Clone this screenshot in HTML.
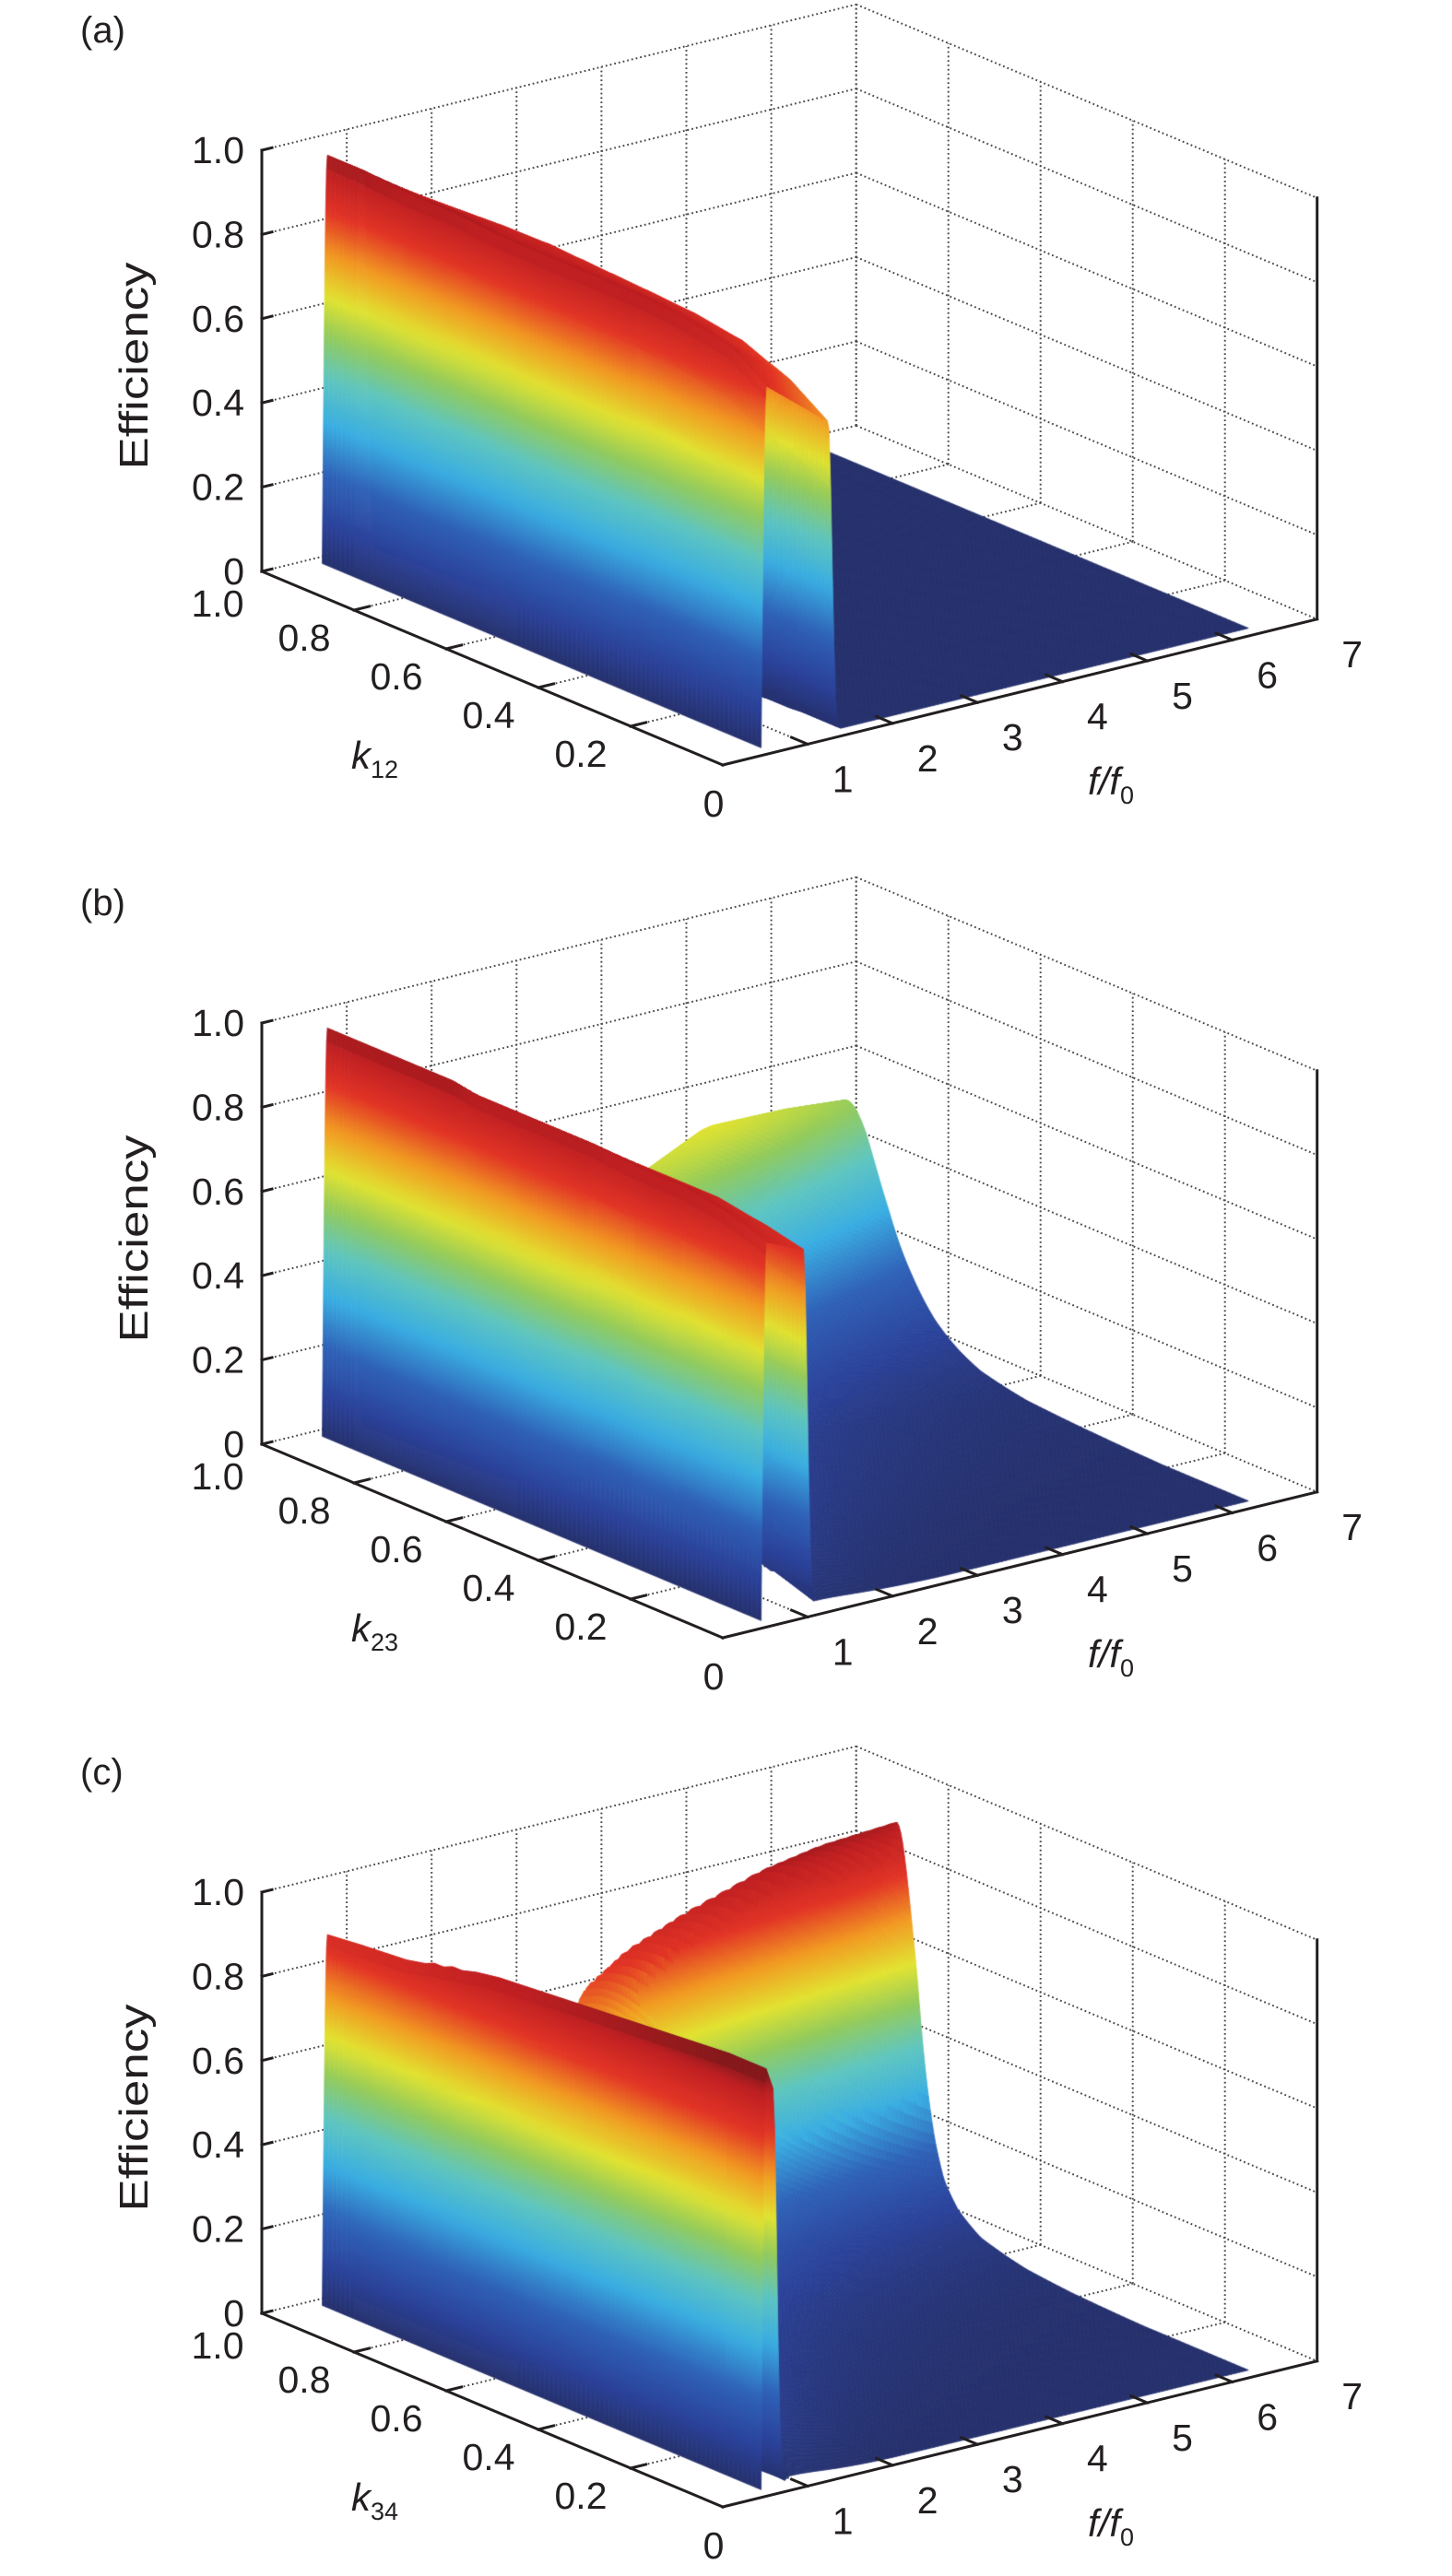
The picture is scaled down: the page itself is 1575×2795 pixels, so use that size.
<!DOCTYPE html>
<html><head><meta charset="utf-8">
<style>
html,body{margin:0;padding:0;background:#fff;}
#wrap{position:relative;width:1575px;height:2795px;overflow:hidden;background:#fff;}
svg,canvas{position:absolute;left:0;top:0;}
text{font-family:"Liberation Sans",sans-serif;fill:#231f20;}
</style></head>
<body>
<div id="wrap">
<svg id="grid" width="1575" height="2795"></svg>
<canvas id="surf" width="1575" height="2795"></canvas>
<svg id="front" width="1575" height="2795">
  <g>
    <text x="87" y="46" font-size="40">(a)</text>
    <text transform="translate(160,397) rotate(-90)" text-anchor="middle" font-size="44" textLength="225" lengthAdjust="spacingAndGlyphs">Efficiency</text>
    <text x="381" y="834" font-size="42" font-style="italic">k<tspan font-size="27" font-style="normal" dy="10">12</tspan></text>
    <text x="1180" y="862" font-size="42" font-style="italic">f/f<tspan font-size="27" font-style="normal" dy="10">0</tspan></text>
  </g>
  <g transform="translate(0,947)">
    <text x="87" y="46" font-size="40">(b)</text>
    <text transform="translate(160,397) rotate(-90)" text-anchor="middle" font-size="44" textLength="225" lengthAdjust="spacingAndGlyphs">Efficiency</text>
    <text x="381" y="834" font-size="42" font-style="italic">k<tspan font-size="27" font-style="normal" dy="10">23</tspan></text>
    <text x="1180" y="862" font-size="42" font-style="italic">f/f<tspan font-size="27" font-style="normal" dy="10">0</tspan></text>
  </g>
  <g transform="translate(0,1890)">
    <text x="87" y="46" font-size="40">(c)</text>
    <text transform="translate(160,397) rotate(-90)" text-anchor="middle" font-size="44" textLength="225" lengthAdjust="spacingAndGlyphs">Efficiency</text>
    <text x="381" y="834" font-size="42" font-style="italic">k<tspan font-size="27" font-style="normal" dy="10">34</tspan></text>
    <text x="1180" y="862" font-size="42" font-style="italic">f/f<tspan font-size="27" font-style="normal" dy="10">0</tspan></text>
  </g>
</svg>
</div>
<script>
// ---- tick data ----
const zTicks = [0, 0.2, 0.4, 0.6, 0.8, 1.0];
const zTickLabels = ["0", "0.2", "0.4", "0.6", "0.8", "1.0"];
const kTicks = [1.0, 0.8, 0.6, 0.4, 0.2, 0];
const kTickLabels = ["1.0", "0.8", "0.6", "0.4", "0.2", "0"];
const fTicks = [1, 2, 3, 4, 5, 6, 7];
const fTickLabels = ["1", "2", "3", "4", "5", "6", "7"];

// ---- surface data (per-k ridge parameters) ----
// panel (a)
const kRowsA = [0.02,0.1,0.2,0.3,0.4,0.5,0.6,0.7,0.8,0.9,0.98];
const ridge1HeightA = [0.86,0.92,0.94,0.95,0.95,0.95,0.95,0.96,0.96,0.97,0.97];
const ridge1EndHeightA = [0.74,0.8,0.85,0.87,0.88,0.89,0.9,0.9,0.9,0.9,0.9];
const ridge1CutA = [1.35,1.35,1.32,1.3,1.28,1.25,1.22,1.2,1.15,1.1,1.05];
const ridge2FreqA = [1,1,1,1,1,1,1,1,1,1,1];
const ridge2HeightA = [0,0,0,0,0,0,0,0,0,0,0];
const ridge2TailA = [1,1,1,1,1,1,1,1,1,1,1];
// panel (b)
const kRowsB = [0.02,0.1,0.2,0.3,0.4,0.5,0.6,0.65,0.7,0.75,0.8,0.85,0.9,0.98];
const ridge1HeightB = [0.9,0.93,0.95,0.95,0.96,0.96,0.96,0.96,0.97,0.97,0.97,0.97,0.97,0.97];
const ridge1EndHeightB = [0.86,0.88,0.9,0.9,0.9,0.9,0.9,0.9,0.9,0.9,0.9,0.9,0.9,0.9];
const ridge1CutB = [1.06,1.06,1.05,1.05,1.04,1.03,1.02,1.0,1.0,0.98,0.96,0.94,0.92,0.9];
const ridge2FreqB = [1.15,1.2,1.25,1.3,1.35,1.45,1.7,2.0,2.5,3.2,4.2,5.3,6.3,7.5];
const ridge2HeightB = [0.02,0.05,0.1,0.17,0.24,0.32,0.42,0.5,0.56,0.61,0.64,0.6,0.55,0.5];
const ridge2TailB = [0.8,0.9,1.0,1.1,1.2,1.3,1.6,1.8,2.0,2.2,2.2,2.2,2.2,2.2];
// panel (c)
const kRowsC = [0.02,0.1,0.2,0.3,0.4,0.5,0.6,0.65,0.68,0.7,0.72,0.74,0.76,0.8,0.9,0.98];
const ridge1HeightC = [1.0,1.0,0.99,0.98,0.97,0.96,0.95,0.94,0.93,0.93,0.92,0.92,0.91,0.9,0.89,0.88];
const ridge1EndHeightC = [0.95,0.95,0.94,0.93,0.92,0.91,0.9,0.89,0.88,0.88,0.87,0.87,0.86,0.85,0.84,0.83];
const ridge1CutC = [0.7,0.7,0.72,0.74,0.76,0.78,0.8,0.8,0.8,0.8,0.8,0.8,0.8,0.8,0.8,0.8];
const ridge2FreqC = [0.9,1.0,1.05,1.1,1.15,1.2,1.4,1.7,2.1,2.7,3.5,4.5,5.3,7.0,9,10];
const ridge2HeightC = [0.02,0.06,0.12,0.2,0.3,0.42,0.6,0.72,0.82,0.87,0.91,0.95,0.96,0.95,0.9,0.85];
const ridge2TailC = [0.6,0.7,0.8,0.9,1.0,1.2,1.5,1.8,2.0,2.2,2.4,2.5,2.5,2.5,2.5,2.5];

// ---- axis geometry ----
const O = [284, 620], KV = [500, 210], FV = [92.1, -22.6], ZH = 457;
const panelOffsets = [0, 947, 1890];
function P(off, k, f, z) {
  return [O[0] + (1 - k) * KV[0] + f * FV[0], O[1] + off + (1 - k) * KV[1] + f * FV[1] - z * ZH];
}
const NS = "http://www.w3.org/2000/svg";
function mk(parent, tag, attrs) {
  const e = document.createElementNS(NS, tag);
  for (const a in attrs) e.setAttribute(a, attrs[a]);
  parent.appendChild(e);
  return e;
}
const gridSvg = document.getElementById('grid');
const frontSvg = document.getElementById('front');
function dline(a, b) {
  const l = mk(gridSvg, 'line', {x1:a[0], y1:a[1], x2:b[0], y2:b[1], stroke:'#4a4a4a', 'stroke-width':2, 'stroke-dasharray':'1.8 3'});
  
  
}
function sline(a, b, w) {
  const l = mk(frontSvg, 'line', {x1:a[0], y1:a[1], x2:b[0], y2:b[1], stroke:'#231f20', 'stroke-width':w, 'stroke-linecap':'square'});
  
  
  return l;
}

panelOffsets.forEach(function (off) {
  for (let f = 1; f <= 7; f++) dline(P(off, 1, f, 0), P(off, 1, f, 1));
  zTicks.forEach(function (z) { dline(P(off, 1, 0, z), P(off, 1, 7, z)); });
  kTicks.forEach(function (k) { if (k > 0) dline(P(off, k, 7, 0), P(off, k, 7, 1)); });
  zTicks.forEach(function (z) { dline(P(off, 1, 7, z), P(off, 0, 7, z)); });
  for (let f = 1; f <= 6; f++) dline(P(off, 1, f, 0), P(off, 0, f, 0));
  kTicks.forEach(function (k) { if (k > 0 && k < 1) dline(P(off, k, 0, 0), P(off, k, 7, 0)); });

  sline(P(off, 1, 0, 0), P(off, 1, 0, 1), 3);
  sline(P(off, 1, 0, 0), P(off, 0, 0, 0), 3);
  sline(P(off, 0, 0, 0), P(off, 0, 7, 0), 3);
  sline(P(off, 0, 7, 0), P(off, 0, 7, 1), 3);

  zTicks.forEach(function (z, i) {
    const p = P(off, 1, 0, z);
    sline(p, P(off, 1, 0.12, z), 3);
    const t = mk(frontSvg, 'text', {x:265, y:p[1] + 14, 'text-anchor':'end', 'font-size':41});
    t.textContent = zTickLabels[i];
    
    
  });
  kTicks.forEach(function (k, i) {
    const p = P(off, k, 0, 0);
    if (k > 0 && k < 1) sline(p, P(off, k, 0.18, 0), 3);
    let dx = -54, dy = 30;
    if (k === 1) { dx = -48; dy = 35; }
    if (k === 0) { dx = -10; dy = 42; }
    const t = mk(frontSvg, 'text', {x:p[0] + dx, y:p[1] + dy + 14, 'text-anchor':'middle', 'font-size':41});
    t.textContent = kTickLabels[i];
    
    
  });
  fTicks.forEach(function (f, i) {
    const p = P(off, 0, f, 0);
    if (f < 7) sline(p, P(off, 0.035, f, 0), 3);
    const t = mk(frontSvg, 'text', {x:p[0] + 38, y:p[1] + 38 + 14, 'text-anchor':'middle', 'font-size':41});
    t.textContent = fTickLabels[i];
    
    
  });
});

// ---- colormap ----
const cmapStops = [
  [0.0, [37,47,106]], [0.1, [43,66,154]], [0.22, [47,98,184]], [0.34, [58,174,226]],
  [0.45, [95,198,192]], [0.55, [147,203,92]], [0.64, [226,227,49]], [0.74, [242,154,34]],
  [0.84, [226,52,38]], [0.94, [190,31,34]], [1.0, [110,22,24]]
];
function cmap(z) {
  z = Math.max(0, Math.min(1, z));
  for (let i = 1; i < cmapStops.length; i++) {
    if (z <= cmapStops[i][0]) {
      const a = cmapStops[i - 1], b = cmapStops[i];
      const t = (z - a[0]) / (b[0] - a[0]);
      return 'rgb(' + [0,1,2].map(function (j) { return Math.round(a[1][j] + (b[1][j] - a[1][j]) * t); }).join(',') + ')';
    }
  }
  return 'rgb(110,22,24)';
}

function interp(xs, ys, x) {
  if (x <= xs[0]) return ys[0];
  for (let i = 1; i < xs.length; i++) {
    if (x <= xs[i]) { const t = (x - xs[i - 1]) / (xs[i] - xs[i - 1]); return ys[i - 1] + (ys[i] - ys[i - 1]) * t; }
  }
  return ys[ys.length - 1];
}

const panels = [
  {off:0, k:kRowsA, h1:ridge1HeightA, h1e:ridge1EndHeightA, fc:ridge1CutA, f2:ridge2FreqA, h2:ridge2HeightA, tw:ridge2TailA},
  {off:947, k:kRowsB, h1:ridge1HeightB, h1e:ridge1EndHeightB, fc:ridge1CutB, f2:ridge2FreqB, h2:ridge2HeightB, tw:ridge2TailB},
  {off:1890, k:kRowsC, h1:ridge1HeightC, h1e:ridge1EndHeightC, fc:ridge1CutC, f2:ridge2FreqC, h2:ridge2HeightC, tw:ridge2TailC}
];
const F_START = 0.56, F_END = 6.3, K_MIN = 0.02, K_MAX = 0.98;

function rowParams(pd, k) {
  return {h1:interp(pd.k, pd.h1, k), h1e:interp(pd.k, pd.h1e, k), fc:interp(pd.k, pd.fc, k),
          f2:interp(pd.k, pd.f2, k), h2:interp(pd.k, pd.h2, k), tw:interp(pd.k, pd.tw, k)};
}
function zAt(r, f) {
  const rise = 0.06;
  let r1;
  if (f < F_START + rise) r1 = r.h1 * Math.sin(Math.PI / 2 * (f - F_START) / rise);
  else if (f <= r.fc) r1 = r.h1 + (r.h1e - r.h1) * (f - F_START - rise) / Math.max(0.01, r.fc - F_START - rise);
  else r1 = r.h1e * Math.exp(-Math.pow((f - r.fc) / 0.06, 2));
  let r2;
  if (f < r.f2) { const w = 0.35 * (r.f2 - 1) + 0.12; r2 = r.h2 * Math.exp(-Math.pow((f - r.f2) / w, 2)); }
  else r2 = r.h2 / (1 + Math.pow((f - r.f2) / r.tw, 2));
  r2 *= Math.min(1, Math.max(0, (f - F_START) / rise));
  return Math.max(r1, r2, 0.004);
}

const fGrid = [];
for (let f = F_START; f < 0.7; f += 0.01) fGrid.push(f);
for (let f = 0.7; f < 2.0; f += 0.02) fGrid.push(f);
for (let f = 2.0; f <= F_END + 1e-6; f += 0.05) fGrid.push(f);
const kGrid = [];
for (let k = K_MIN; k <= K_MAX + 1e-6; k += (k > 0.55 && k < 0.9 ? 0.004 : 0.01)) kGrid.push(k);

const ctx = document.getElementById('surf').getContext('2d');
ctx.lineJoin = 'round';
panels.forEach(function (pd) {
  const Z = kGrid.map(function (k) { const r = rowParams(pd, k); return fGrid.map(function (f) { return zAt(r, f); }); });
  const quads = [];
  for (let i = 0; i < kGrid.length - 1; i++) {
    for (let j = 0; j < fGrid.length - 1; j++) {
      const kc = (kGrid[i] + kGrid[i + 1]) / 2, fc = (fGrid[j] + fGrid[j + 1]) / 2;
      quads.push([i, j, (1 - kc) * KV[1] + fc * FV[1]]);
    }
  }
  quads.sort(function (a, b) { return a[2] - b[2]; });
  quads.forEach(function (q) {
    const i = q[0], j = q[1];
    const vs = [[kGrid[i], fGrid[j], Z[i][j]], [kGrid[i], fGrid[j + 1], Z[i][j + 1]],
                [kGrid[i + 1], fGrid[j + 1], Z[i + 1][j + 1]], [kGrid[i + 1], fGrid[j], Z[i + 1][j]]];
    const pts = vs.map(function (v) { return P(pd.off, v[0], v[1], v[2]); });
    ctx.beginPath();
    ctx.moveTo(pts[0][0], pts[0][1]);
    for (let m = 1; m < 4; m++) ctx.lineTo(pts[m][0], pts[m][1]);
    ctx.closePath();
    let zmin = 9, zmax = -9, imin = 0, imax = 0;
    vs.forEach(function (v, m) { if (v[2] < zmin) { zmin = v[2]; imin = m; } if (v[2] > zmax) { zmax = v[2]; imax = m; } });
    let style;
    if (zmax - zmin > 0.04) {
      const a = pts[imin], b = pts[imax];
      const g = ctx.createLinearGradient(a[0], a[1], a[0], b[1]);
      for (let s = 0; s <= 8; s++) g.addColorStop(s / 8, cmap(zmin + (zmax - zmin) * s / 8));
      style = g;
    } else {
      style = cmap((vs[0][2] + vs[1][2] + vs[2][2] + vs[3][2]) / 4);
    }
    ctx.fillStyle = style;
    ctx.strokeStyle = style;
    ctx.lineWidth = 0.8;
    ctx.fill();
    ctx.stroke();
  });
});
</script>
</body></html>
